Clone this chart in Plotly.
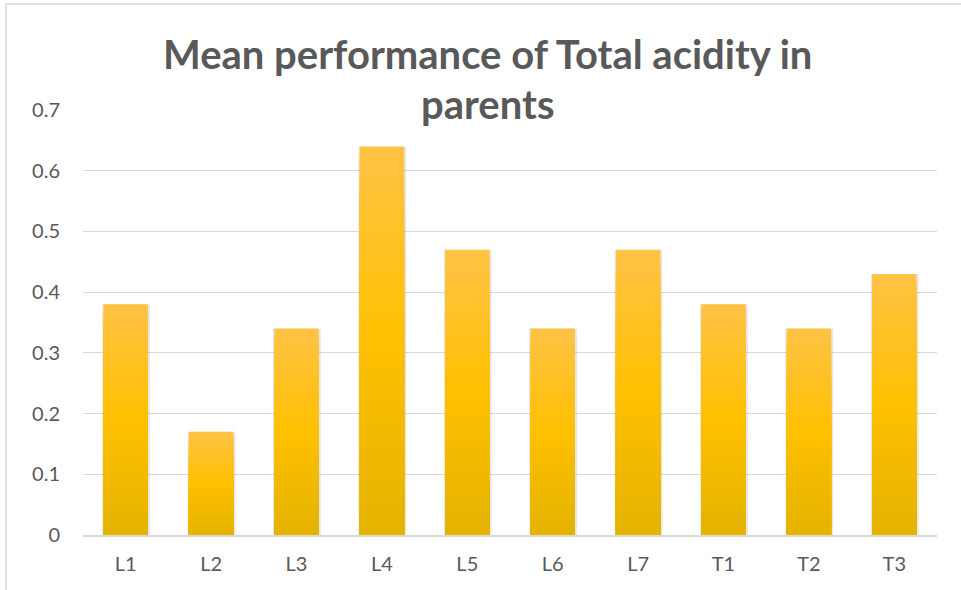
import plotly.graph_objects as go

categories = ["L1", "L2", "L3", "L4", "L5", "L6", "L7", "T1", "T2", "T3"]
values = [0.38, 0.17, 0.34, 0.64, 0.47, 0.34, 0.47, 0.38, 0.34, 0.43]
y_ticks = [0, 0.1, 0.2, 0.3, 0.4, 0.5, 0.6, 0.7]
y_tick_labels = ["0", "0.1", "0.2", "0.3", "0.4", "0.5", "0.6", "0.7"]
title_lines = ["Mean performance of Total acidity in", "parents"]

GRAY = "#595959"
GRID = "#D9D9D9"

# gradient stops (fraction from bottom -> rgb)
stops = [(0.0, (228, 179, 0)), (0.5, (255, 192, 0)), (1.0, (255, 195, 70))]


def grad_color(f):
    for (f0, c0), (f1, c1) in zip(stops[:-1], stops[1:]):
        if f0 <= f <= f1:
            t = (f - f0) / (f1 - f0)
            c = [round(a + (b - a) * t) for a, b in zip(c0, c1)]
            return "rgb(%d,%d,%d)" % tuple(c)
    return "rgb(%d,%d,%d)" % stops[-1][1]


fig = go.Figure()

BW = 0.52
# soft shadow
fig.add_trace(go.Bar(
    x=categories, y=values, width=BW + 0.04, offset=-BW / 2 - 0.015,
    marker=dict(color="rgba(0,0,0,0.09)", line=dict(width=0)),
    hoverinfo="skip", showlegend=False,
))

N = 40
for k in range(N):
    h = 1 - k / N
    fig.add_trace(go.Bar(
        x=categories, y=[v * h for v in values], width=BW, offset=-BW / 2,
        marker=dict(color=grad_color(h - 0.5 / N), line=dict(width=0)),
        hoverinfo="skip", showlegend=False,
    ))

TITLE_FONT = dict(size=40, color=GRAY, family="Lato, sans-serif")

fig.update_layout(
    width=961, height=590,
    margin=dict(l=83, r=24, t=110, b=55),
    paper_bgcolor="white", plot_bgcolor="white",
    barmode="overlay",
    showlegend=False,
    font=dict(family="Lato, Open Sans, sans-serif", color=GRAY, size=20),
    xaxis=dict(
        showgrid=False, showline=True, linecolor=GRID, linewidth=1.5,
        ticks="", tickfont=dict(size=20, color=GRAY), ticklabelstandoff=10,
        range=[-0.5, len(categories) - 0.5],
    ),
    yaxis=dict(
        range=[0, 0.7], tickvals=y_ticks, ticktext=y_tick_labels,
        showgrid=True, gridcolor=GRID, gridwidth=1, zeroline=False,
        showline=False, ticks="", tickfont=dict(size=20, color=GRAY),
        ticklabelstandoff=22,
    ),
    annotations=[
        dict(text="<b>%s</b>" % title_lines[0], xref="paper", yref="paper",
             x=0.474, y=1 + (110 - 54) / 425, xanchor="center", yanchor="middle",
             showarrow=False, font=TITLE_FONT),
        dict(text="<b>%s</b>" % title_lines[1], xref="paper", yref="paper",
             x=0.474, y=1 + (110 - 104) / 425, xanchor="center", yanchor="middle",
             showarrow=False, font=TITLE_FONT),
    ],
    shapes=[
        dict(type="line", xref="paper", yref="paper",
             x0=(6 - 83) / 854, x1=(961 - 83) / 854,
             y0=1 + (110 - 4) / 425, y1=1 + (110 - 4) / 425,
             line=dict(color=GRID, width=1.5)),
        dict(type="line", xref="paper", yref="paper",
             x0=(6 - 83) / 854, x1=(6 - 83) / 854,
             y0=1 + (110 - 4) / 425, y1=-(590 - 535) / 425,
             line=dict(color=GRID, width=1.5)),
    ],
)

fig.write_html("out.html")
